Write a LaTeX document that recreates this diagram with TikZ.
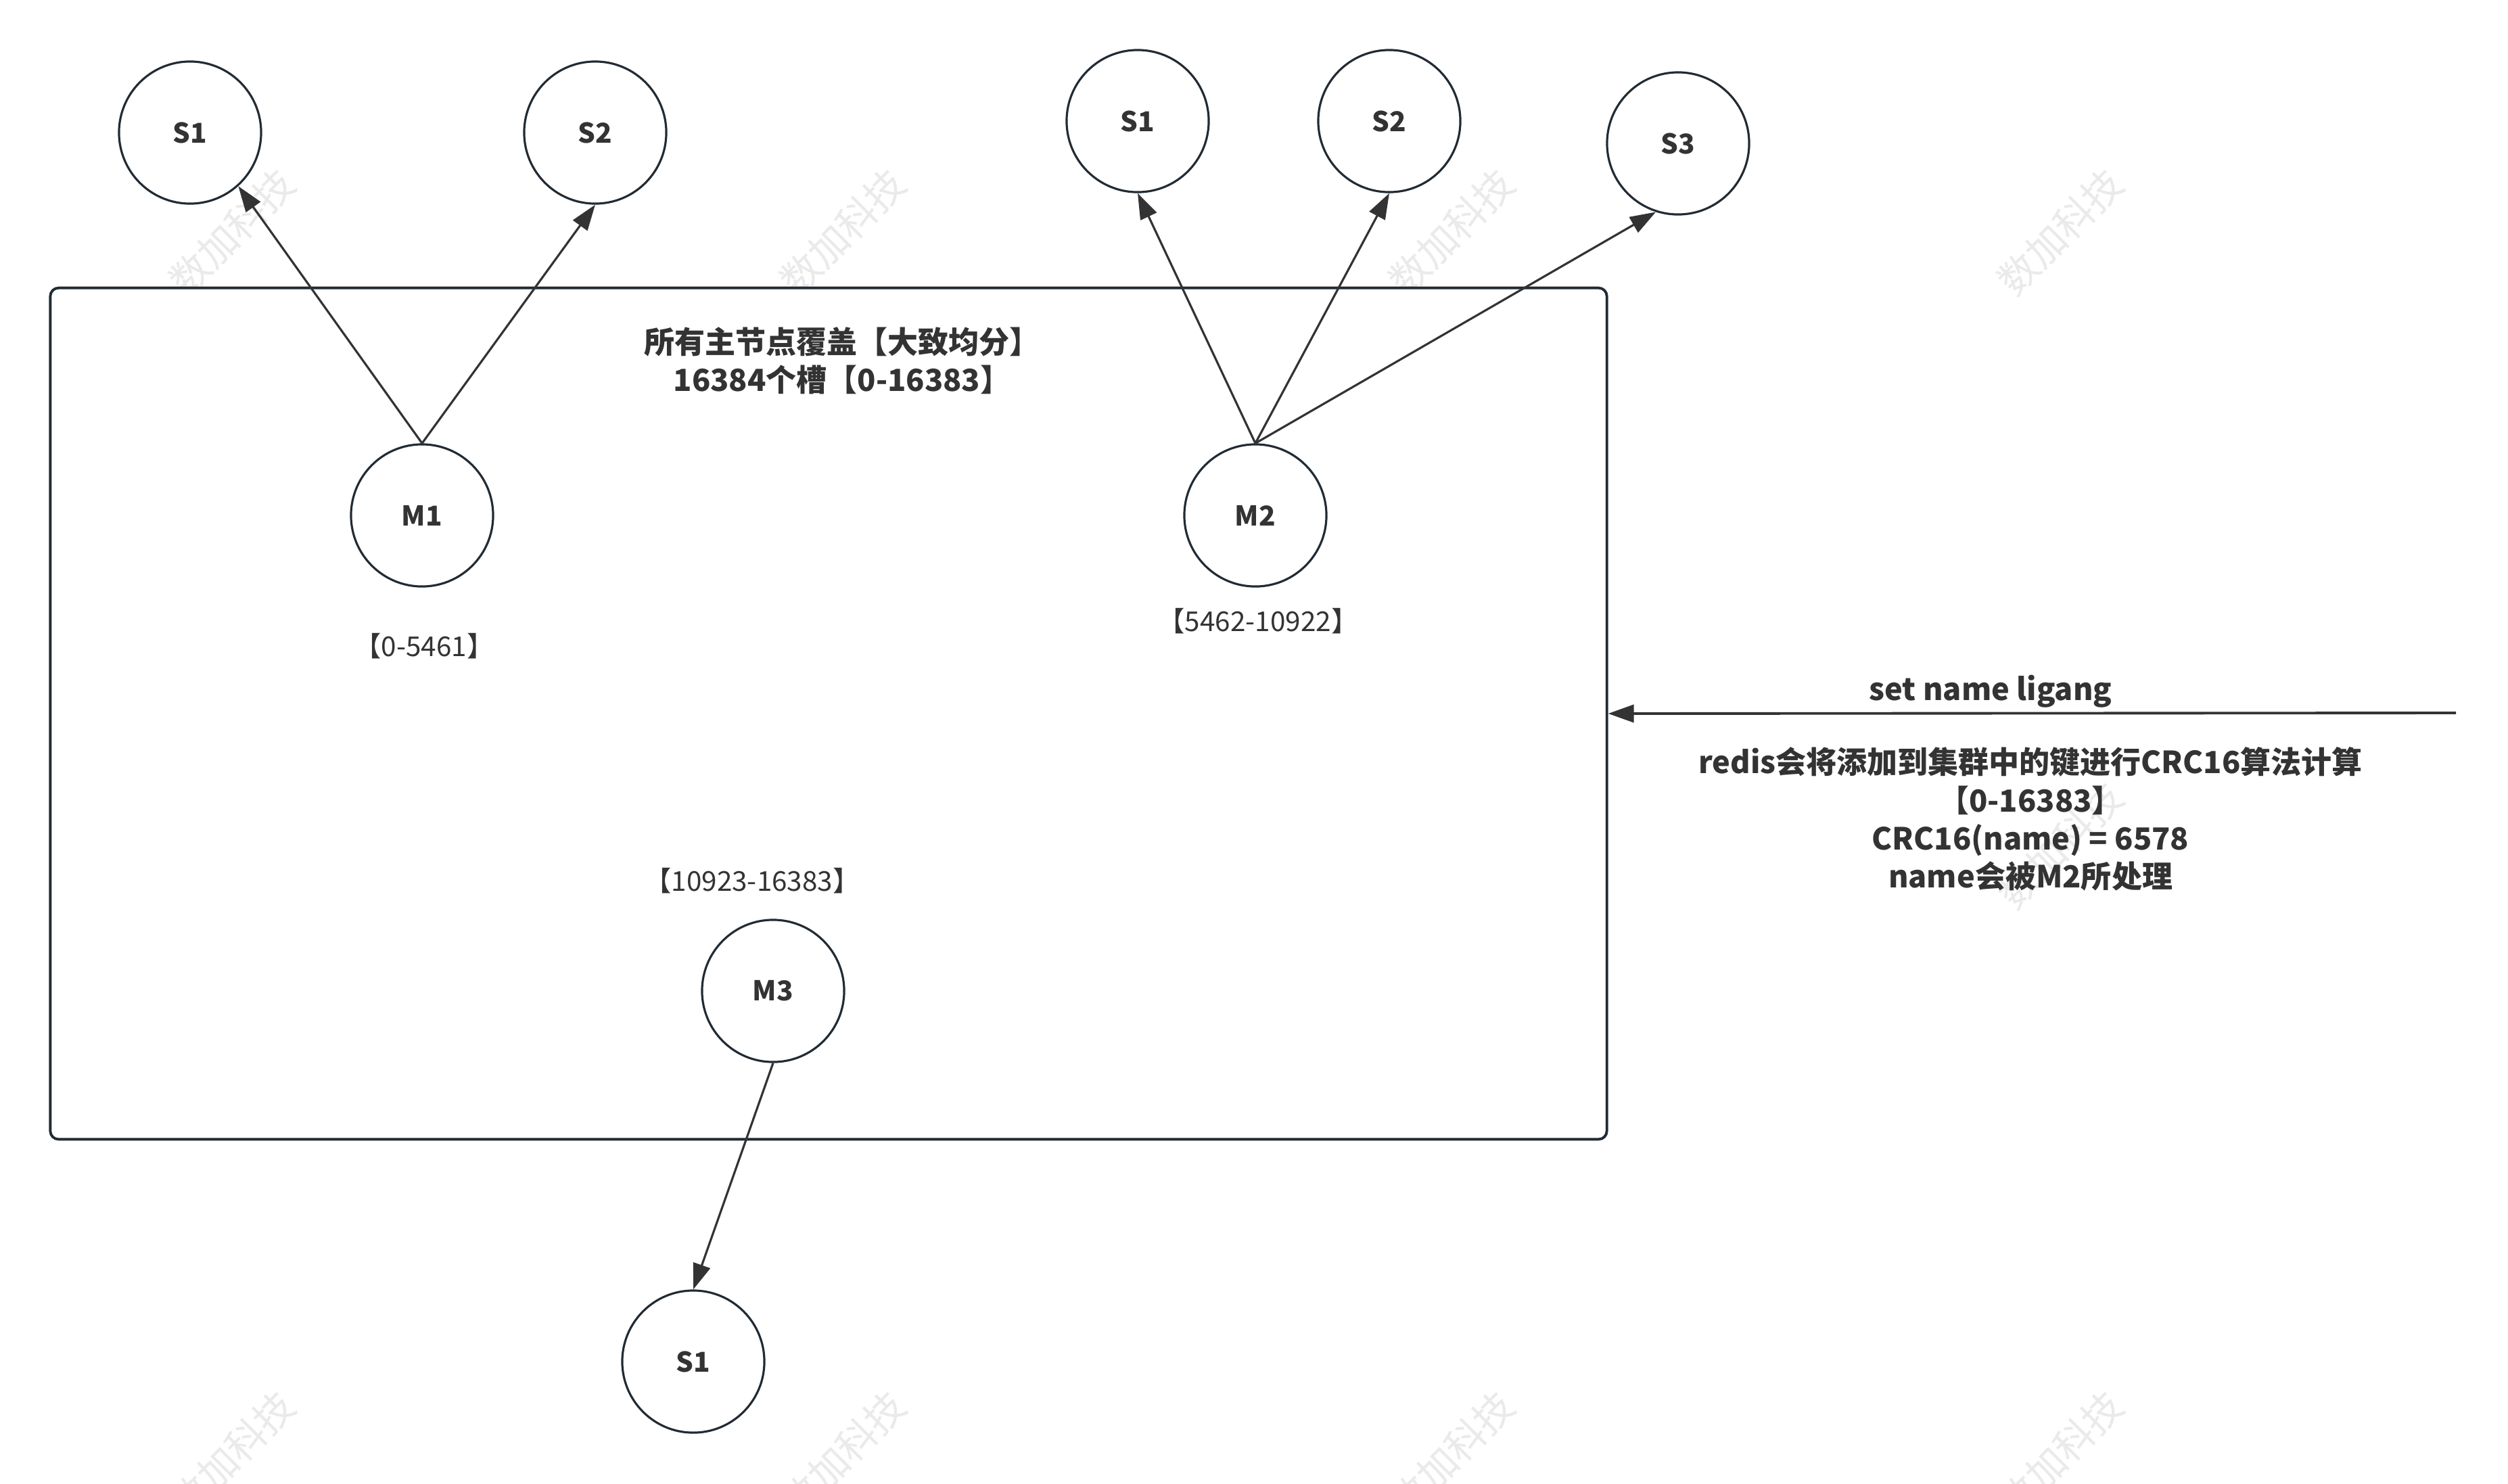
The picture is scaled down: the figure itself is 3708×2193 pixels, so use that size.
\documentclass[tikz,border=0pt]{standalone}
\usepackage{fontspec}
\setmainfont{Noto Sans CJK SC}
\usepackage{xcolor}
\definecolor{ink}{HTML}{333333}
\definecolor{edge}{HTML}{222B33}
\definecolor{wmark}{HTML}{EAEAEA}
\usepackage{tikz}
\usetikzlibrary{arrows.meta,positioning}

\begin{document}
\begin{tikzpicture}[
  x=0.01cm, y=-0.01cm,
  inst/.style={circle, draw=edge, line width=0.9pt, fill=white, minimum size=2.1cm,
    inner sep=0pt, text=ink, font=\fontsize{11.5}{13}\selectfont\bfseries},
  cluster/.style={draw=edge, line width=1.1pt, rounded corners=3.5pt, fill=white,
    minimum width=23cm, minimum height=12.58cm},
  slot/.style={text=ink, inner sep=0pt, font=\fontsize{11.5}{13}\selectfont},
  note/.style={text=ink, align=center, inner sep=0pt, font=\fontsize{12.8}{16}\selectfont\bfseries},
  wm/.style={text=wmark, rotate=45, inner sep=0pt, font=\fontsize{16.5}{17}\selectfont},
  arr/.style={-{Triangle[length=3.8mm, width=2.6mm]}, ink, line width=0.9pt}
]
\useasboundingbox (0,0) rectangle (3708,2193);
\clip (0,0) rectangle (3708,2193);
\fill[white] (0,0) rectangle (3708,2193);

% watermarks
\foreach \wx in {343,1246,2146,3046}
  \foreach \wy in {343,1250,2150}
    \node[wm] (wm-\wx-\wy) at (\wx,\wy) {数加科技};

% slot range of the cluster
\node[cluster] (cluster) at (1225,1055) {};
\node[note] (title) at (1245,533) {所有主节点覆盖【大致均分】\\16384个槽【0-16383】};

% masters
\node[inst] (m1) at (624,762) {M1};
\node[inst] (m2) at (1856,762) {M2};
\node[inst] (m3) at (1143,1465) {M3};
\node[slot] (r1) at (627,955) {【0-5461】};
\node[slot] (r2) at (1860,918) {【5462-10922】};
\node[slot] (r3) at (1112,1302) {【10923-16383】};

% slaves
\node[inst] (m1s1) at (281,196) {S1};
\node[inst] (m1s2) at (880,196) {S2};
\node[inst] (m2s1) at (1682,179) {S1};
\node[inst] (m2s2) at (2054,179) {S2};
\node[inst] (m2s3) at (2481,212) {S3};
\node[inst] (m3s1) at (1025,2013) {S1};

\draw[arr] (m1.north) -- (m1s1.-48);
\draw[arr] (m1.north) -- (m1s2.south);
\draw[arr] (m2.north) -- (m2s1.south);
\draw[arr] (m2.north) -- (m2s2.south);
\draw[arr] (m2.north) -- (m2s3.-108);
\draw[arr] (m3.south) -- (m3s1.north);

% client command
\coordinate (client) at (3631,1054);
\draw[arr, line width=1.1pt] (client) -- (cluster.east);
\node[note] (cmd) at (2943,1022) {set name ligang};
\node[note] (crc) at (3002,1211) {redis会将添加到集群中的键进行CRC16算法计算\\【0-16383】\\CRC16(name)~=~6578\\name会被M2所处理};
\end{tikzpicture}
\end{document}
